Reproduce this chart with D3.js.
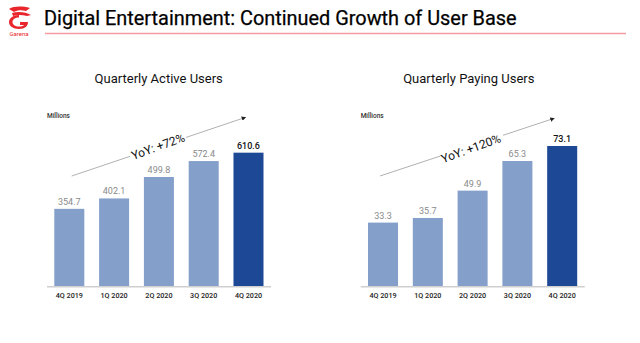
<!DOCTYPE html>
<html><head><meta charset="utf-8">
<script src="https://cdn.jsdelivr.net/npm/d3@7"></script>
<style>html,body{margin:0;padding:0;background:#fff;}svg{display:block;}</style>
</head><body>
<svg id="c" width="640" height="343"></svg>
<script>
const categories = ["4Q 2019","1Q 2020","2Q 2020","3Q 2020","4Q 2020"];
const activeUsers = [354.7, 402.1, 499.8, 572.4, 610.6];
const payingUsers = [33.3, 35.7, 49.9, 65.3, 73.1];
const activeLabels = ["354.7","402.1","499.8","572.4","610.6"];
const payingLabels = ["33.3","35.7","49.9","65.3","73.1"];
const panelTitles = ["Quarterly Active Users","Quarterly Paying Users"];
const yoyLabels = ["YoY: +72%","YoY: +120%"];
const unitLabel = "Millions";
const mainTitle = "Digital Entertainment: Continued Growth of User Base";

const svg = d3.select("#c");
const FONT = "Roboto, 'Noto Sans', sans-serif";

// header
const logo = svg.append("g").attr("fill","#e8262b");
logo.append("path").attr("d","M9,9 C14,6 22,6 30,8 L26,11 C22,10 17,10 14,12 Z");
logo.append("path").attr("d","M12,13 C18,11 26,12 31,15 L27,16 C22,14.5 17,14.5 13,16 Z");
logo.append("path").attr("d","M19,15 C12,15 9,19 9,22 C9,26 13,29 19,29 C25,29 28,26 28,22 L20,22 L20,25 L24,25 C23,26 21,26.5 19,26.5 C15,26.5 12.5,24.5 12.5,22 C12.5,19.5 15,17.5 19,17.5 Z");
logo.append("text").attr("x",19).attr("y",36).attr("text-anchor","middle")
  .attr("font-family",FONT).attr("font-size",6).text("Garena");

const t = svg.append("text").attr("x",44).attr("y",25).attr("font-family",FONT)
  .attr("font-size",22).attr("fill","#000").attr("stroke","#000").attr("stroke-width",0.25).text(mainTitle);
const tw = t.node().getComputedTextLength();
t.attr("font-size", 22*473/tw);
svg.append("line").attr("x1",45).attr("x2",626).attr("y1",33.5).attr("y2",33.5)
  .attr("stroke","#f39b9e").attr("stroke-width",1.5);

svg.append("defs").append("marker").attr("id","ah").attr("viewBox","0 0 10 10")
  .attr("refX",9).attr("refY",5).attr("markerWidth",5).attr("markerHeight",5)
  .attr("orient","auto").append("path").attr("d","M0,0 L10,5 L0,10 Z").attr("fill","#222");

function panel(cfg){
  const g = svg.append("g");
  const x = d3.scaleBand().domain(categories).range(cfg.xr).paddingInner(0.33).paddingOuter(0.163);
  const y = d3.scaleLinear().domain(cfg.yd).range([286.7, cfg.ytop]);
  g.append("text").attr("x",cfg.tx).attr("y",82.5).attr("text-anchor","middle")
    .attr("font-family",FONT).attr("font-size",13).attr("fill","#111").text(cfg.title);
  g.append("text").attr("x",cfg.xr[0]).attr("y",118).attr("font-family",FONT)
    .attr("font-size",6.5).attr("fill","#333").attr("font-weight","500").text(unitLabel);
  g.selectAll("rect").data(cfg.values).join("rect")
    .attr("x",(d,i)=>x(categories[i])).attr("width",x.bandwidth())
    .attr("y",d=>y(d)).attr("height",d=>y(0)-y(d))
    .attr("fill",(d,i)=>i===cfg.values.length-1?"#1c4896":"#849fca");
  g.selectAll(".vl").data(cfg.values).join("text").attr("class","vl")
    .attr("x",(d,i)=>x(categories[i])+x.bandwidth()/2).attr("y",d=>y(d)-4)
    .attr("text-anchor","middle").attr("font-family",FONT).attr("font-size",9)
    .attr("fill",(d,i)=>i===cfg.values.length-1?"#111":"#8a8a8a")
    .attr("font-weight",(d,i)=>i===cfg.values.length-1?"500":"normal")
    .text((d,i)=>cfg.labels[i]);
  const ax = d3.axisBottom(x).tickSize(0).tickPadding(6);
  const axg = g.append("g").attr("transform","translate(0,286.7)").call(ax);
  axg.select(".domain").attr("stroke","#cfcfcf").attr("stroke-width",1.5)
    .attr("d",`M${cfg.xr[0]},0H${cfg.xr[0]+224}`);
  axg.selectAll("text").attr("font-family",FONT).attr("font-size",7.2).attr("font-weight","500")
    .attr("fill","#222").attr("dy","0.9em").attr("y",4.5);
  // arrow
  const [x0,y0,x1,y1] = cfg.arrow;
  const ang = Math.atan2(y1-y0,x1-x0);
  const cx = cfg.tc[0], cy = cfg.tc[1];
  const gap0 = ((cfg.gap[0]-x0)/Math.cos(ang)), gap1 = ((cfg.gap[1]-x0)/Math.cos(ang));
  const px = d=>x0+d*Math.cos(ang), py = d=>y0+d*Math.sin(ang);
  g.append("line").attr("x1",x0).attr("y1",y0).attr("x2",px(gap0)).attr("y2",py(gap0))
    .attr("stroke","#a8a8a8").attr("stroke-width",0.9);
  g.append("line").attr("x1",px(gap1)).attr("y1",py(gap1)).attr("x2",x1).attr("y2",y1)
    .attr("stroke","#a8a8a8").attr("stroke-width",0.9).attr("marker-end","url(#ah)");
  g.append("text").attr("transform",`translate(${cx},${cy}) rotate(-20)`)
    .attr("text-anchor","middle").attr("dy","0.35em").attr("font-family",FONT)
    .attr("font-size",12).attr("fill","#111").text(cfg.yoy);
}
panel({xr:[47,270.8], yd:[0,700], ytop:286.7-0.2195*700, values:activeUsers, labels:activeLabels,
  title:panelTitles[0], tx:158.7, yoy:yoyLabels[0], arrow:[71.7,176,245.7,117.3], tc:[158,146.5], gap:[130,186]});
panel({xr:[360.7,584.5], yd:[0,80], ytop:286.7-1.925*80, values:payingUsers, labels:payingLabels,
  title:panelTitles[1], tx:468.8, yoy:yoyLabels[1], arrow:[380,176,554.3,118.3], tc:[471,148.5], gap:[440,503]});
</script>
</body></html>
